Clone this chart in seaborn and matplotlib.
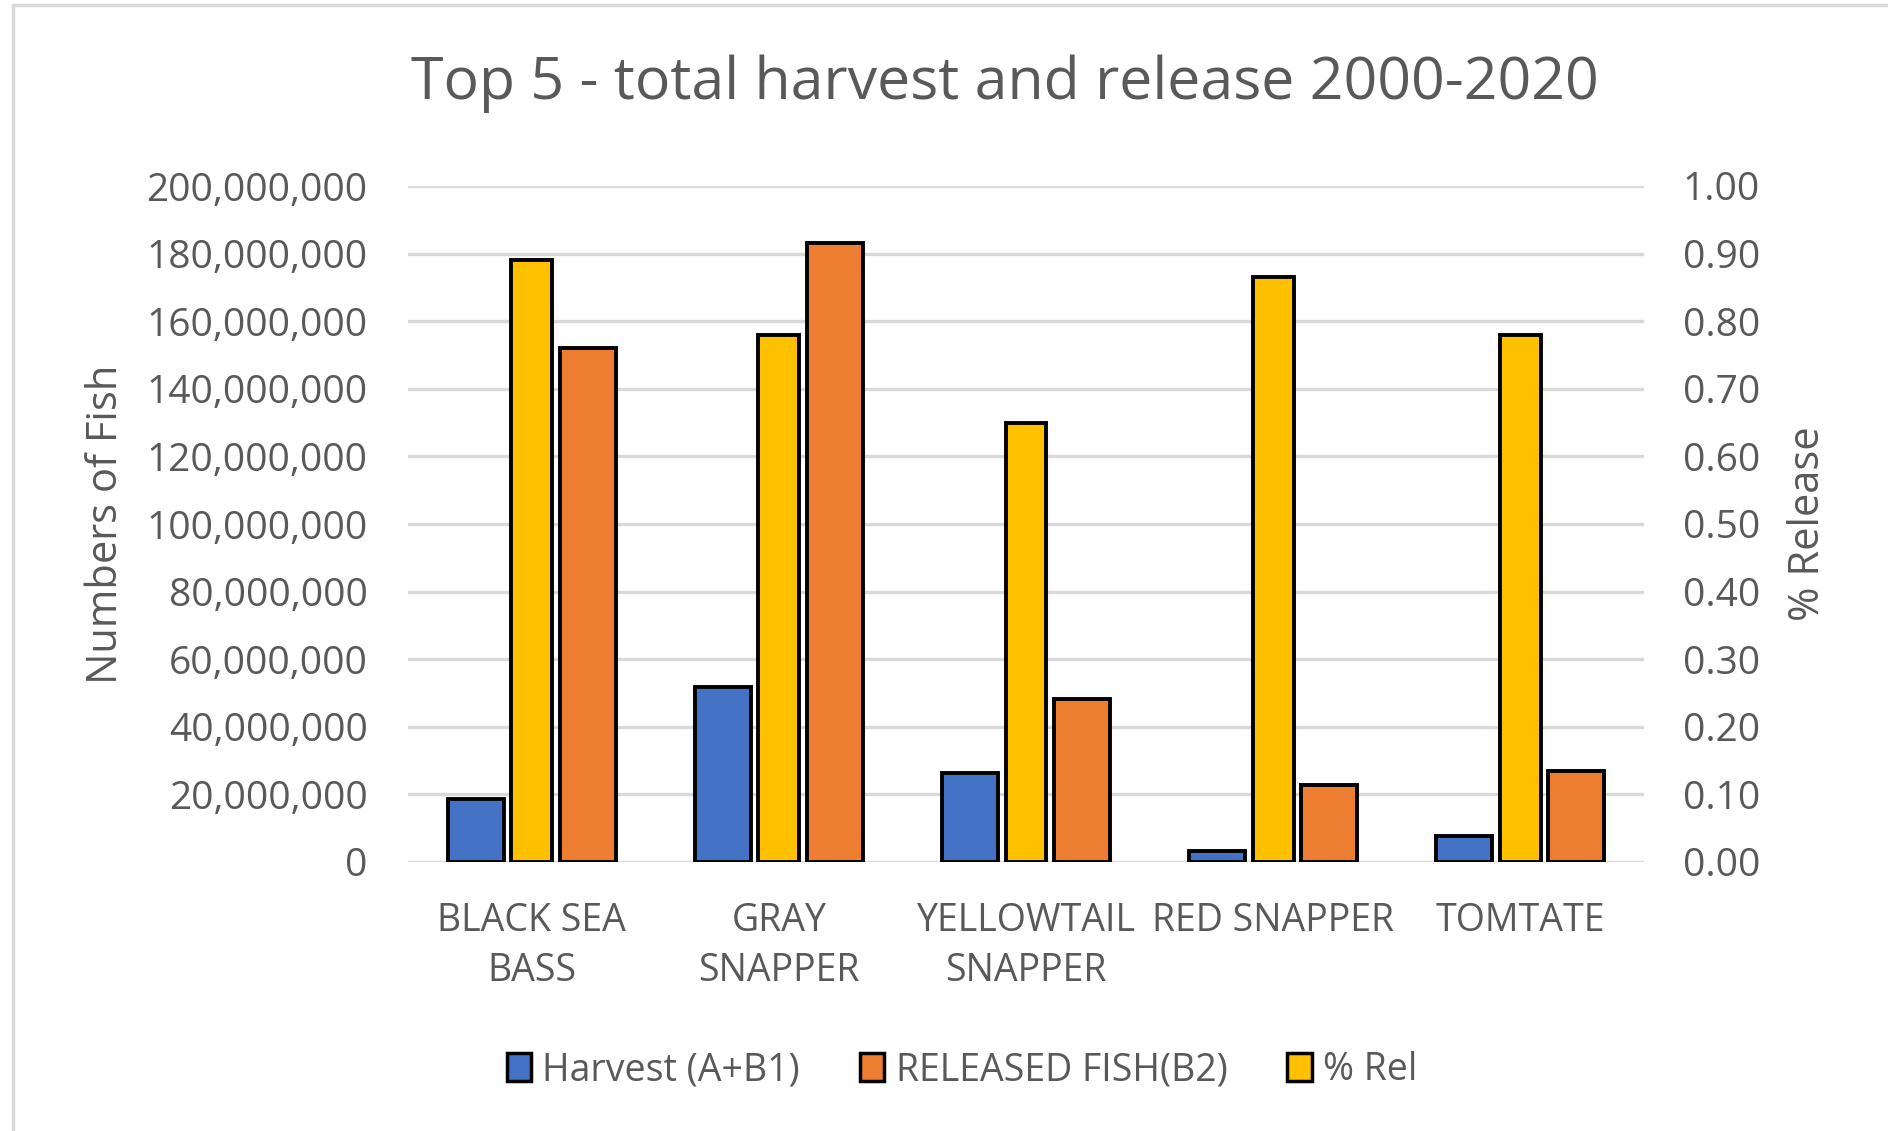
import numpy as np
import pandas as pd
import matplotlib
matplotlib.use("Agg")
import matplotlib.pyplot as plt
from matplotlib.patches import Patch
from matplotlib.lines import Line2D
from matplotlib.ticker import FuncFormatter
import seaborn as sns

# data
species = ["BLACK SEA\nBASS", "GRAY\nSNAPPER", "YELLOWTAIL\nSNAPPER", "RED SNAPPER", "TOMTATE"]
harvest = [18.7e6, 51.9e6, 26.2e6, 3.4e6, 7.7e6]
released = [152.0e6, 183.0e6, 48.2e6, 22.8e6, 26.9e6]
pct_rel = [0.89, 0.78, 0.65, 0.866, 0.779]

series_names = ["Harvest (A+B1)", "RELEASED FISH(B2)", "% Rel"]
colors = {"Harvest (A+B1)": "#4472C4", "RELEASED FISH(B2)": "#ED7D31", "% Rel": "#FFC000"}
text_col = "#595959"
grid_col = "#D9D9D9"

sns.set_theme(style="white")
plt.rcParams["font.family"] = ["Open Sans", "DejaVu Sans"]

# long table for the primary axis; % Rel is an empty slot so it sits in the middle
rows = []
for i, sp in enumerate(species):
    rows.append((sp, "Harvest (A+B1)", harvest[i]))
    rows.append((sp, "% Rel", np.nan))
    rows.append((sp, "RELEASED FISH(B2)", released[i]))
df = pd.DataFrame(rows, columns=["species", "series", "count"])

fig = plt.figure(figsize=(18.88, 11.31), dpi=100)
ax = fig.add_axes([408 / 1888, 1 - 862 / 1131, 1236 / 1888, 676 / 1131])

sns.barplot(data=df, x="species", y="count", hue="series",
            hue_order=["Harvest (A+B1)", "% Rel", "RELEASED FISH(B2)"],
            palette=colors, order=species, width=0.68, gap=0, saturation=1,
            edgecolor="black", linewidth=2.8, legend=False, ax=ax, errorbar=None)

ax2 = ax.twinx()
sns.barplot(x=species, y=pct_rel, order=species, color=colors["% Rel"], width=0.165,
            saturation=1, edgecolor="black", linewidth=2.8, ax=ax2, errorbar=None)

ax.set_xlim(-0.5, 4.5)
ax.set_ylim(0, 200e6)
ax2.set_ylim(0, 1.0)
ax.set_yticks(np.arange(0, 200e6 + 1, 20e6))
ax2.set_yticks(np.arange(0, 1.01, 0.1))
ax.yaxis.set_major_formatter(FuncFormatter(lambda v, p: f"{v:,.0f}"))
ax2.yaxis.set_major_formatter(FuncFormatter(lambda v, p: f"{v:.2f}"))

ax.set_axisbelow(True)
ax.grid(axis="y", color=grid_col, linewidth=2.4)
ax.grid(axis="x", visible=False)
ax2.grid(False)
for a in (ax, ax2):
    for s in a.spines.values():
        s.set_visible(False)

ax.tick_params(axis="y", length=0, pad=29, labelsize=28, labelcolor=text_col)
ax2.tick_params(axis="y", length=0, pad=28, labelsize=28, labelcolor=text_col)
ax.tick_params(axis="x", length=0, pad=29, labelsize=27, labelcolor=text_col)
ax2.tick_params(axis="x", length=0, labelbottom=False)
for t in ax.get_xticklabels():
    t.set_linespacing(1.4)

ax.set_xlabel("")
ax.set_ylabel("Numbers of Fish", fontsize=30, color=text_col, va="center")
ax.yaxis.set_label_coords((106 - 408) / 1236, 0.5)
ax2.set_ylabel("% Release", fontsize=30, color=text_col, va="center")
ax2.yaxis.set_label_coords((1808 - 408) / 1236, 0.5)

fig.text(1005 / 1888, 1 - 99 / 1131, "Top 5 - total harvest and release 2000-2020",
         ha="center", va="baseline", fontsize=42.5, color=text_col)

handles = [Patch(facecolor=colors[n], edgecolor="black", linewidth=2.5, label=n)
           for n in series_names]
fig.legend(handles=handles, loc="center", bbox_to_anchor=(962 / 1888, 1 - 1070 / 1131),
           ncol=3, frameon=False, fontsize=27, handlelength=0.65, handleheight=0.75,
           handletextpad=0.3, columnspacing=1.6, labelcolor=text_col)

# chart area border (top and left edges visible in the reference)
fig.add_artist(Line2D([13 / 1888, 1], [1 - 5 / 1131, 1 - 5 / 1131], color=grid_col, lw=2.5))
fig.add_artist(Line2D([13 / 1888, 13 / 1888], [0, 1 - 5 / 1131], color=grid_col, lw=2.5))

fig.savefig("out.png", dpi=100)
